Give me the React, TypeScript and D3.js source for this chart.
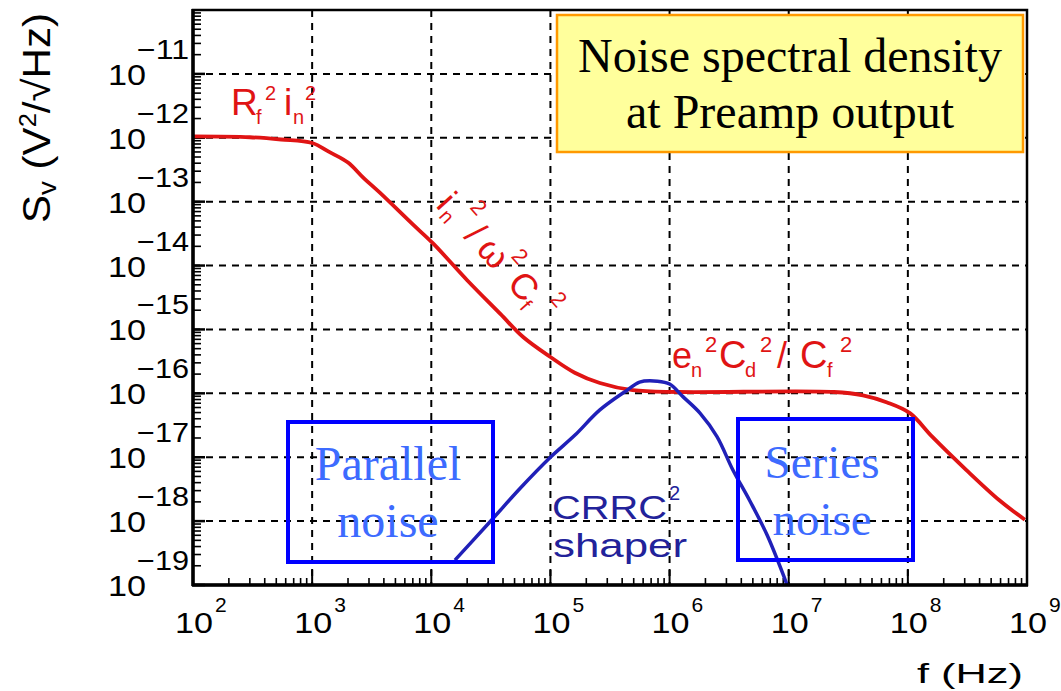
import React from "react";
import * as d3 from "d3";

// ---- Data ----
// Total noise spectral density at preamp output (red)
const redFreq = [1e2, 3e2, 5.5e2, 1e3, 1.39e3, 2e3, 2.67e3, 3.7e3, 7e3, 1.03e4, 2e4, 3.8e4, 5.9e4, 1e5, 1.6e5, 2.6e5, 4.9e5, 1.2e6, 2.4e7, 4.2e7, 6.7e7, 1.04e8, 1.6e8, 3.1e8, 5.9e8, 9.6e8];
const redS = [1.05e-12, 1.02e-12, 9.4e-13, 8.3e-13, 6.0e-13, 4.1e-13, 2.4e-13, 1.38e-13, 4.4e-14, 2.24e-14, 5.9e-15, 1.75e-15, 7.6e-16, 3.7e-16, 2.1e-16, 1.45e-16, 1.12e-16, 1.05e-16, 1.05e-16, 9.3e-17, 7.2e-17, 4.9e-17, 2.1e-17, 6.3e-18, 2.1e-18, 1.05e-18];
// CRRC^2 shaper response (blue)
const blueFreq = [1.58e4, 3.1e4, 5.6e4, 1e5, 1.6e5, 2.6e5, 4.4e5, 5.6e5, 7.9e5, 1.0e6, 1.3e6, 1.8e6, 2.5e6, 3.4e6, 4.7e6, 6.6e6, 9.7e6];
const blueS = [2.45e-19, 9.7e-19, 3.3e-18, 1.0e-17, 2.2e-17, 5.5e-17, 1.12e-16, 1.5e-16, 1.55e-16, 1.4e-16, 8.8e-17, 4.9e-17, 2.1e-17, 6.3e-18, 2.1e-18, 6.0e-19, 1e-19];

const xTickExps = [2, 3, 4, 5, 6, 7, 8, 9];
const yTickExps = [-19, -18, -17, -16, -15, -14, -13, -12, -11];
const xGridExps = [3, 4, 5, 6, 7, 8];
const yGridExps = [-18, -17, -16, -15, -14, -13, -12, -11];
const titleLines = ["Noise spectral density", "at Preamp output"];
const parallelLines = ["Parallel", "noise"];
const seriesLines = ["Series", "noise"];

const W = 1061;
const H = 691;
const L = 193, R = 1027, T = 10, B = 585;

export default function App() {
  const x = d3.scaleLog().domain([1e2, 1e9]).range([L, R]);
  const y = d3.scaleLog().domain([1e-19, 1e-10]).range([B, T]);

  const line = d3
    .line<[number, number]>()
    .x((d) => x(d[0]))
    .y((d) => y(d[1]))
    .curve(d3.curveCatmullRom.alpha(0.5));

  const redPath = line(redFreq.map((f, i) => [f, redS[i]] as [number, number])) || "";
  const bluePath = line(blueFreq.map((f, i) => [f, blueS[i]] as [number, number])) || "";

  const xMinor: number[] = [];
  for (let d = 2; d < 9; d++) for (let k = 2; k <= 9; k++) xMinor.push(k * Math.pow(10, d));
  const yMinor: number[] = [];
  for (let d = -19; d < -10; d++) for (let k = 2; k <= 9; k++) yMinor.push(k * Math.pow(10, d));

  const red = "#e01414";
  const sans = "'Liberation Sans', Arial, Helvetica, sans-serif";
  const serif = "'Liberation Serif', 'Times New Roman', serif";
  const boxText = "#3d6bff";
  const navy = "#22229a";

  return (
    <svg
      width={W}
      height={H}
      viewBox={`0 0 ${W} ${H}`}
      style={{ position: "absolute", left: 0, top: 0, background: "#fff" }}
    >
      <rect x={0} y={0} width={W} height={H} fill="#fff" />
      <defs>
        <clipPath id="plotClip">
          <rect x={L} y={T} width={R - L} height={B - T} />
        </clipPath>
      </defs>

      {/* grid */}
      {xGridExps.map((e) => (
        <line key={"gx" + e} x1={x(Math.pow(10, e))} x2={x(Math.pow(10, e))} y1={T} y2={B}
          stroke="#000" strokeWidth={2} strokeDasharray="7,6" />
      ))}
      {yGridExps.map((e) => (
        <line key={"gy" + e} x1={L} x2={R} y1={y(Math.pow(10, e))} y2={y(Math.pow(10, e))}
          stroke="#000" strokeWidth={2} strokeDasharray="7,6" />
      ))}

      {/* ticks */}
      {xMinor.map((v, i) => (
        <line key={"xm" + i} x1={x(v)} x2={x(v)} y1={B} y2={B - 7} stroke="#000" strokeWidth={1.6} />
      ))}
      {xTickExps.map((e) => (
        <line key={"xM" + e} x1={x(Math.pow(10, e))} x2={x(Math.pow(10, e))} y1={B} y2={B - 15} stroke="#000" strokeWidth={2} />
      ))}
      {yMinor.map((v, i) => (
        <line key={"ym" + i} x1={L} x2={L + 8} y1={y(v)} y2={y(v)} stroke="#000" strokeWidth={1.6} />
      ))}
      {yTickExps.map((e) => (
        <line key={"yM" + e} x1={L} x2={L + 12} y1={y(Math.pow(10, e))} y2={y(Math.pow(10, e))} stroke="#000" strokeWidth={2.5} />
      ))}

      {/* curves */}
      <g clipPath="url(#plotClip)">
        <path d={redPath} fill="none" stroke={red} strokeWidth={3.8} strokeLinejoin="round" />
        <path d={bluePath} fill="none" stroke="#2020b8" strokeWidth={3.5} strokeLinejoin="round" />
      </g>

      {/* frame */}
      <rect x={L} y={T} width={R - L} height={B - T} fill="none" stroke="#000" strokeWidth={2.5} />
      <line x1={L} x2={L} y1={T - 1} y2={B + 1} stroke="#000" strokeWidth={3.5} />
      <line x1={L - 1} x2={R + 1} y1={B} y2={B} stroke="#000" strokeWidth={3.5} />

      {/* x tick labels */}
      {xTickExps.map((e) => (
        <g key={"xl" + e} fontFamily={sans} fill="#000">
          <text x={x(Math.pow(10, e)) + 1} y={633} fontSize={29} textAnchor="middle" textLength={38} lengthAdjust="spacingAndGlyphs">10</text>
          <text x={x(Math.pow(10, e)) + 22} y={612} fontSize={21}>{e}</text>
        </g>
      ))}
      {/* y tick labels */}
      {yTickExps.map((e) => (
        <g key={"yl" + e} fontFamily={sans} fill="#000">
          <text x={146} y={y(Math.pow(10, e)) + 11} fontSize={30} textAnchor="end" textLength={38} lengthAdjust="spacingAndGlyphs">10</text>
          <text x={137} y={y(Math.pow(10, e)) - 15} fontSize={27} textLength={52} lengthAdjust="spacingAndGlyphs">{"\u2212" + Math.abs(e)}</text>
        </g>
      ))}

      {/* axis titles */}
      <text x={1023} y={683} fontFamily={sans} fontSize={28} textAnchor="end" textLength={106} lengthAdjust="spacingAndGlyphs">f (Hz)</text>
      <g transform="translate(50,223) rotate(-90)" fontFamily={sans} fontSize={38} fill="#000">
        <text x={0} y={0} textLength={210} lengthAdjust="spacingAndGlyphs">
          S<tspan fontSize={25} dy={6}>v</tspan>
          <tspan dy={-6}> (V</tspan>
          <tspan fontSize={23} dy={-14}>2</tspan>
          <tspan dy={14}>/√Hz)</tspan>
        </text>
      </g>

      {/* title box */}
      <rect x={557} y={15} width={466} height={137} fill="#ffff9c" stroke="#ff9900" strokeWidth={2.5} />
      {titleLines.map((t, i) => (
        <text key={"t" + i} x={790} y={72 + i * 56} fontFamily={serif} fontSize={48} textAnchor="middle" fill="#000">{t}</text>
      ))}

      {/* noise boxes */}
      <rect x={288} y={422} width={205} height={140} fill="none" stroke="#0000ff" strokeWidth={4} />
      {parallelLines.map((t, i) => (
        <text key={"p" + i} x={388} y={480 + i * 57} fontFamily={serif} fontSize={48} textAnchor="middle" fill={boxText}>{t}</text>
      ))}
      <rect x={738} y={419} width={175} height={141} fill="none" stroke="#0000ff" strokeWidth={4} />
      {seriesLines.map((t, i) => (
        <text key={"s" + i} x={822} y={478 + i * 57} fontFamily={serif} fontSize={47} textAnchor="middle" fill={boxText}>{t}</text>
      ))}

      {/* CRRC^2 shaper label */}
      <g fontFamily={sans} fill={navy}>
        <text x={552} y={519} fontSize={34} textLength={115} lengthAdjust="spacingAndGlyphs">CRRC</text>
        <text x={669} y={500} fontSize={20}>2</text>
        <text x={553} y={557} fontSize={34} textLength={134} lengthAdjust="spacingAndGlyphs">shaper</text>
      </g>

      {/* red labels */}
      <g fontFamily={sans} fill={red}>
        <text x={231} y={115} fontSize={37}>R</text>
        <text x={256} y={124} fontSize={20}>f</text>
        <text x={265} y={100} fontSize={20}>2</text>
        <text x={284} y={115} fontSize={37}>i</text>
        <text x={293} y={124} fontSize={20}>n</text>
        <text x={305} y={100} fontSize={20}>2</text>
      </g>
      <g fontFamily={sans} fill={red} transform="translate(435,206) rotate(48)">
        <text x={0} y={0} fontSize={36}>i</text>
        <text x={10} y={5} fontSize={20}>n</text>
        <text x={24} y={-24} fontSize={22}>2</text>
        <text x={42} y={0} fontSize={36}>/</text>
        <text x={60} y={0} fontSize={36}>ω</text>
        <text x={88} y={-22} fontSize={22}>2</text>
        <text x={106} y={0} fontSize={36}>C</text>
        <text x={132} y={6} fontSize={20}>f</text>
        <text x={146} y={-22} fontSize={22}>2</text>
      </g>
      <g fontFamily={sans} fill={red}>
        <text x={672} y={368} fontSize={36}>e</text>
        <text x={691} y={377} fontSize={20}>n</text>
        <text x={705} y={352} fontSize={22}>2</text>
        <text x={719} y={368} fontSize={38}>C</text>
        <text x={745} y={377} fontSize={20}>d</text>
        <text x={760} y={352} fontSize={22}>2</text>
        <text x={777} y={368} fontSize={36}>/</text>
        <text x={800} y={368} fontSize={38}>C</text>
        <text x={827} y={377} fontSize={20}>f</text>
        <text x={840} y={352} fontSize={22}>2</text>
      </g>
    </svg>
  );
}
